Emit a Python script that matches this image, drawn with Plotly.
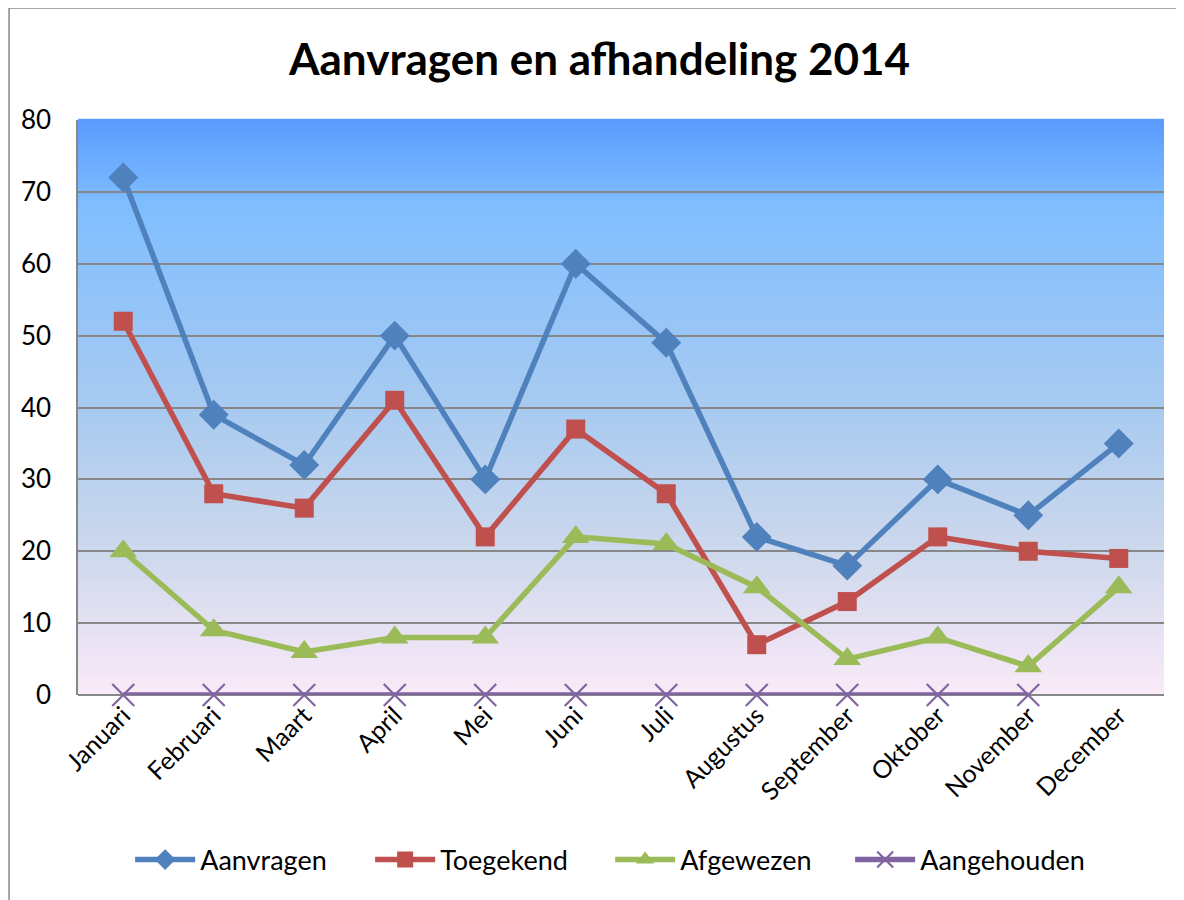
import plotly.graph_objects as go

months = ["Januari", "Februari", "Maart", "April", "Mei", "Juni", "Juli",
          "Augustus", "September", "Oktober", "November", "December"]
aanvragen = [72, 39, 32, 50, 30, 60, 49, 22, 18, 30, 25, 35]
toegekend = [52, 28, 26, 41, 22, 37, 28, 7, 13, 22, 20, 19]
afgewezen = [20, 9, 6, 8, 8, 22, 21, 15, 5, 8, 4, 15]
aangehouden = [0, 0, 0, 0, 0, 0, 0, 0, 0, 0, 0, None]

FONT = "Lato"

fig = go.Figure()

series = [
    ("Aanvragen", aanvragen, "#4F81BD", "diamond", 23, 0),
    ("Toegekend", toegekend, "#C0504D", "square", 19, 0),
    ("Afgewezen", afgewezen, "#9BBB59", "triangle-up", 24, 0),
    ("Aangehouden", aangehouden, "#8064A2", "x-thin", 22, 2.2),
]
for name, vals, col, sym, size, lw in series:
    fig.add_trace(go.Scatter(
        x=months, y=vals, name=name, mode="lines+markers", cliponaxis=False,
        line=dict(color=col, width=5.5),
        marker=dict(symbol=sym, size=size, color=col,
                    line=dict(color=col, width=lw)),
    ))

# gradient background of the plot area, blue at top fading to pink
stops = [(0.0, (250, 234, 248)), (0.25, (205, 216, 236)), (0.5, (168, 202, 240)),
         (0.85, (128, 190, 255)), (1.0, (90, 155, 255))]


def grad(t):
    for (a, ca), (b, cb) in zip(stops, stops[1:]):
        if a <= t <= b:
            f = (t - a) / (b - a)
            return "rgb(%d,%d,%d)" % tuple(round(ca[i] + (cb[i] - ca[i]) * f) for i in range(3))
    return "rgb(%d,%d,%d)" % stops[-1][1]


shapes = []
n = 120
for i in range(n):
    shapes.append(dict(type="rect", xref="paper", yref="paper",
                       x0=0, x1=1, y0=i / n, y1=(i + 1) / n + 0.002,
                       fillcolor=grad((i + 0.5) / n), line=dict(width=0), layer="below"))
# outer chart border
shapes.append(dict(type="rect", xref="paper", yref="paper",
                   x0=-0.0635, x1=1.05, y0=-0.4, y1=1.195,
                   line=dict(color="#8A8A8A", width=1.5), fillcolor="rgba(0,0,0,0)"))
fig.update_layout(shapes=shapes)

# page body adds 8px offset, so figure is 8px smaller than the window
fig.update_layout(
    width=1176, height=892,
    margin=dict(l=70, r=20, t=112, b=205),
    paper_bgcolor="white", plot_bgcolor="white",
    font=dict(family=FONT, color="black"),
    title=dict(text="<b>Aanvragen en afhandeling 2014</b>", x=0.503, xanchor="center",
               y=0.942, yanchor="middle", font=dict(size=44, family=FONT)),
    legend=dict(orientation="h", x=0.49, xanchor="center", y=-0.287, yanchor="middle",
                font=dict(size=27, family=FONT), itemwidth=60, tracegroupgap=0,
                entrywidth=165, entrywidthmode="pixels"),
    showlegend=True,
)
fig.update_xaxes(range=[-0.5, 11.5], tickangle=-45, showgrid=False,
                 tickfont=dict(size=25, family=FONT), ticks="", showline=False,
                 zeroline=False)
fig.update_yaxes(range=[0, 80], dtick=10, showgrid=True, gridcolor="#878787", gridwidth=1.5,
                 showline=True, linecolor="#878787", linewidth=1.5, mirror=False,
                 zeroline=True, zerolinecolor="#878787", zerolinewidth=1.5,
                 tickfont=dict(size=26, family=FONT), ticks="", ticklabelstandoff=20)

fig.write_html("out.html")
